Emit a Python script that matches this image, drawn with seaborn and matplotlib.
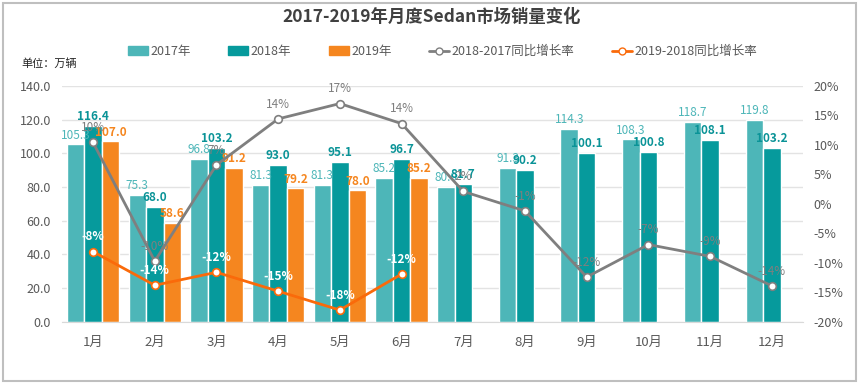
import numpy as np
import pandas as pd
import matplotlib
matplotlib.use('Agg')
import matplotlib.pyplot as plt
import seaborn as sns
from matplotlib.lines import Line2D
from matplotlib.patches import Patch, Rectangle
from matplotlib.ticker import FuncFormatter

# data
months = ['1月', '2月', '3月', '4月', '5月', '6月', '7月', '8月', '9月', '10月', '11月', '12月']
years = ['2017年', '2018年', '2019年']
sales_2017 = [105.3, 75.3, 96.8, 81.3, 81.3, 85.2, 80.0, 91.3, 114.3, 108.3, 118.7, 119.8]
sales_2018 = [116.4, 68.0, 103.2, 93.0, 95.1, 96.7, 81.7, 90.2, 100.1, 100.8, 108.1, 103.2]
sales_2019 = [107.0, 58.6, 91.2, 79.2, 78.0, 85.2]
growth_18_17 = [0.104, -0.097, 0.066, 0.144, 0.170, 0.136, 0.021, -0.012, -0.124, -0.069, -0.089, -0.139]
growth_19_18 = [-0.081, -0.138, -0.116, -0.148, -0.180, -0.119]

bar_colors = ['#4DB6B8', '#069A9C', '#F5861F']
gray = '#7F7F7F'
orange = '#FA6A0A'
txt = '#595959'

sns.set_style('white')
plt.rcParams['font.family'] = ['Noto Sans CJK SC', 'DejaVu Sans']

rows = []
for yr, vals in zip(years, [sales_2017, sales_2018, sales_2019]):
    for m, v in zip(months, vals):
        rows.append({'month': m, 'year': yr, 'sales': v})
df = pd.DataFrame(rows)

fig = plt.figure(figsize=(8.64, 3.85), dpi=100)
ax = fig.add_axes([0.072, 0.164, 0.857, 0.613])

sns.barplot(data=df, x='month', y='sales', hue='year', order=months, hue_order=years,
            palette=bar_colors, saturation=1, width=0.85, errorbar=None, legend=False, ax=ax)

label_styles = [(bar_colors[0], 'normal'), ('#0A9397', 'bold'), (bar_colors[2], 'bold')]
for cont, (c, w) in zip(ax.containers, label_styles):
    ax.bar_label(cont, fmt='%.1f', padding=2, color=c, fontsize=8.5, fontweight=w)

ax.set_ylim(0, 140)
ax.set_yticks(np.arange(0, 141, 20))
ax.yaxis.set_major_formatter(FuncFormatter(lambda v, p: f'{v:.1f}'))
ax.set_xlim(-0.5, 11.5)
ax.set_xlabel('')
ax.set_ylabel('')
ax.grid(axis='y', color='#E3E3E3', linewidth=1)
ax.set_axisbelow(True)
for s in ['top', 'right', 'left']:
    ax.spines[s].set_visible(False)
ax.spines['bottom'].set_color('#D9D9D9')
ax.tick_params(axis='y', length=0, labelsize=9, labelcolor=txt, pad=8)
ax.tick_params(axis='x', length=0, labelsize=9.5, labelcolor=txt, pad=10)

ax2 = ax.twinx()
x_all = np.arange(len(months))
x_19 = np.arange(len(growth_19_18))
sns.lineplot(x=x_all, y=growth_18_17, ax=ax2, color=gray, linewidth=2, marker='o',
             markersize=5.5, markerfacecolor='white', markeredgecolor=gray, markeredgewidth=1.2)
sns.lineplot(x=x_19, y=growth_19_18, ax=ax2, color=orange, linewidth=2, marker='o',
             markersize=5.5, markerfacecolor='white', markeredgecolor=orange, markeredgewidth=1.2)
for xi, g in zip(x_all, growth_18_17):
    ax2.annotate(f'{g:.0%}', (xi, g), xytext=(0, 6), textcoords='offset points',
                 ha='center', va='bottom', fontsize=8.5, color=gray)
for xi, g in zip(x_19, growth_19_18):
    ax2.annotate(f'{g:.0%}', (xi, g), xytext=(0, 6), textcoords='offset points',
                 ha='center', va='bottom', fontsize=8.5, color='white', fontweight='bold')

ax2.set_ylim(-0.2, 0.2)
ax2.set_yticks(np.arange(-0.2, 0.201, 0.05))
ax2.yaxis.set_major_formatter(FuncFormatter(lambda v, p: f'{round(v * 100):d}%'))
ax2.tick_params(axis='y', length=0, labelsize=9, labelcolor=txt, pad=8)
for s in ax2.spines.values():
    s.set_visible(False)
ax2.set_xlim(-0.5, 11.5)

handles = [Patch(color=bar_colors[0]), Patch(color=bar_colors[1]), Patch(color=bar_colors[2]),
           Line2D([], [], color=gray, lw=2, marker='o', ms=5, mfc='white', mec=gray),
           Line2D([], [], color=orange, lw=2, marker='o', ms=5, mfc='white', mec=orange)]
labels = years + ['2018-2017同比增长率', '2019-2018同比增长率']
leg = fig.legend(handles, labels, loc='center', bbox_to_anchor=(0.512, 0.866), ncol=5,
                 frameon=False, fontsize=9, columnspacing=3.0, handlelength=1.6,
                 handletextpad=0.2)
for t in leg.get_texts():
    t.set_color(txt)

fig.text(0.5, 0.955, '2017-2019年月度Sedan市场销量变化', ha='center', va='center',
         fontsize=12.5, fontweight='bold', color='#404040')
fig.text(0.025, 0.834, '单位：万辆', ha='left', va='center', fontsize=8, color='#222222')

fig.patches.append(Rectangle((0.003, 0.01), 0.988, 0.982, transform=fig.transFigure,
                             fill=False, edgecolor='#BFBFBF', linewidth=1.5))

fig.savefig('out.png', dpi=100)
